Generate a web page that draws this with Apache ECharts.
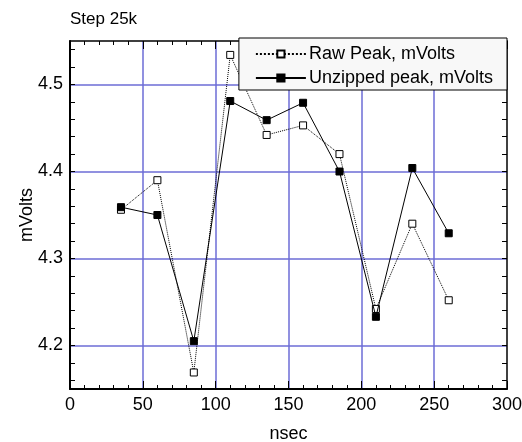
<!DOCTYPE html>
<html>
<head>
<meta charset="utf-8">
<script src="https://cdn.jsdelivr.net/npm/echarts@6/dist/echarts.min.js"></script>
<style>
  html, body { margin: 0; padding: 0; background: #fff; }
  #main { width: 522px; height: 442px; }
</style>
</head>
<body>
<div id="main"></div>
<script>
// 数据
var nsec = [35, 60, 85, 110, 135, 160, 185, 210, 235, 260];
var rawPeak = [4.356, 4.390, 4.169, 4.534, 4.442, 4.453, 4.420, 4.242, 4.340, 4.252];
var unzippedPeak = [4.359, 4.350, 4.205, 4.481, 4.459, 4.479, 4.400, 4.233, 4.404, 4.329];
var yLabels = [4.2, 4.3, 4.4, 4.5];
var yTicks = [4.16, 4.18, 4.2, 4.22, 4.24, 4.26, 4.28, 4.3, 4.32, 4.34, 4.36, 4.38,
  4.4, 4.42, 4.44, 4.46, 4.48, 4.5, 4.52, 4.54];

function pairs(xs, ys) {
  return xs.map(function (x, i) { return [x, ys[i]]; });
}

var FONT = '"Liberation Sans", Arial, sans-serif';
var GRID_COLOR = '#6c6cd6';

function chart() {
  var myChart = echarts.init(document.getElementById('main'));
  window.addEventListener('resize', () => myChart.resize(), false);

  var xCommon = {
    type: 'value',
    min: 0,
    max: 300,
    interval: 50
  };
  var yCommon = {
    type: 'value',
    min: 4.15,
    max: 4.55
  };

  var option = {
    backgroundColor: '#fff',
    animation: false,
    textStyle: { fontFamily: FONT },
    title: {
      text: 'Step 25k',
      left: 65,
      top: 6,
      textStyle: { fontFamily: FONT, fontSize: 17, fontWeight: 'normal', color: '#000' }
    },
    grid: { left: 70, right: 15, top: 41, bottom: 53, outerBoundsMode: 'none', containLabel: false },
    legend: {
      right: 15,
      top: 38,
      orient: 'vertical',
      backgroundColor: '#f8f8f8',
      borderColor: '#000',
      borderWidth: 1,
      padding: [6, 14, 2, 16],
      itemGap: 4,
      itemWidth: 50,
      itemHeight: 9,
      textStyle: { fontFamily: FONT, fontSize: 18, color: '#000', lineHeight: 20, padding: [0, 0, 0, -2] },
      data: ['Raw Peak, mVolts', 'Unzipped peak, mVolts']
    },
    xAxis: [
      Object.assign({}, xCommon, {
        position: 'bottom',
        name: 'nsec',
        nameLocation: 'middle',
        nameGap: 36,
        nameTextStyle: { fontFamily: FONT, fontSize: 18, color: '#000' },
        axisLine: { lineStyle: { color: '#000', width: 2 } },
        axisTick: { inside: true, length: 8, lineStyle: { color: '#000', width: 1 } },
        minorTick: { show: true, splitNumber: 5, length: 4, lineStyle: { color: '#000', width: 1 } },
        axisLabel: { fontFamily: FONT, fontSize: 18, color: '#000', margin: 7 },
        splitLine: { show: true, showMinLine: false, showMaxLine: false, lineStyle: { color: GRID_COLOR, width: 1.5 } }
      }),
      Object.assign({}, xCommon, {
        position: 'top',
        axisLine: { lineStyle: { color: '#000', width: 1.5 } },
        axisTick: { inside: true, length: 8, lineStyle: { color: '#000', width: 1 } },
        minorTick: { show: true, splitNumber: 5, length: 4, lineStyle: { color: '#000', width: 1 } },
        axisLabel: { show: false },
        splitLine: { show: false }
      })
    ],
    yAxis: [
      Object.assign({}, yCommon, {
        position: 'left',
        splitNumber: 4,
        name: 'mVolts',
        nameLocation: 'middle',
        nameGap: 34,
        nameMoveOverlap: false,
        nameTextStyle: { fontFamily: FONT, fontSize: 18, color: '#000' },
        axisLine: { show: true, lineStyle: { color: '#000', width: 2 } },
        axisTick: { show: false },
        axisLabel: {
          fontFamily: FONT, fontSize: 18, color: '#000', margin: 7,
          customValues: yLabels,
          formatter: function (v) { return v.toFixed(1); }
        },
        splitLine: { show: true, showMinLine: false, showMaxLine: false, lineStyle: { color: GRID_COLOR, width: 1.5 } }
      }),
      Object.assign({}, yCommon, {
        position: 'left',
        axisLine: { show: false },
        axisTick: { show: true, inside: true, length: 5, customValues: yTicks, lineStyle: { color: '#000', width: 1 } },
        axisLabel: { show: false },
        splitLine: { show: false }
      }),
      Object.assign({}, yCommon, {
        position: 'right',
        axisLine: { show: true, lineStyle: { color: '#000', width: 1.5 } },
        axisTick: { show: true, inside: true, length: 5, customValues: yTicks, lineStyle: { color: '#000', width: 1 } },
        axisLabel: { show: false },
        splitLine: { show: false }
      })
    ],
    series: [
      {
        name: 'Raw Peak, mVolts',
        type: 'line',
        xAxisIndex: 0,
        yAxisIndex: 0,
        symbol: 'rect',
        symbolSize: 7,
        z: 3,
        itemStyle: { color: '#fff', borderColor: '#000', borderWidth: 1 },
        lineStyle: { color: '#000', width: 1, type: 'dotted' },
        data: pairs(nsec, rawPeak)
      },
      {
        name: 'Unzipped peak, mVolts',
        type: 'line',
        xAxisIndex: 0,
        yAxisIndex: 0,
        symbol: 'rect',
        symbolSize: 7,
        z: 4,
        itemStyle: { color: '#000', borderColor: '#000', borderWidth: 1 },
        lineStyle: { color: '#000', width: 1, type: 'solid' },
        data: pairs(nsec, unzippedPeak)
      }
    ]
  };
  myChart.setOption(option);
}

window.onload = function () {
  chart();
};
</script>
</body>
</html>
